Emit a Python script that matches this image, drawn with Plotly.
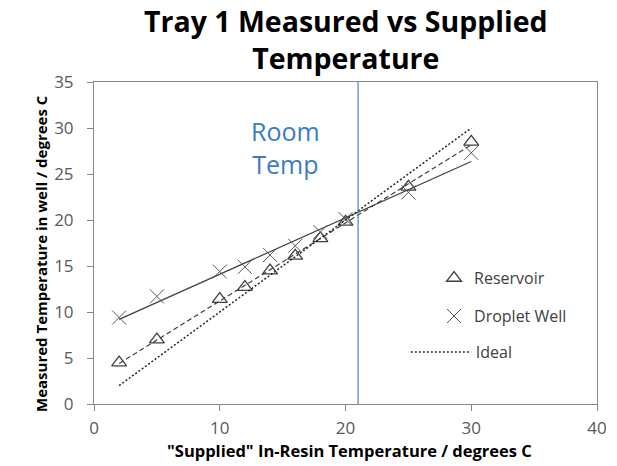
import numpy as np
import plotly.graph_objects as go

# ---- data ----
supplied = [2, 5, 10, 12, 14, 16, 18, 20, 25, 30]
reservoir = [4.5, 7.0, 11.4, 12.7, 14.5, 16.1, 18.0, 19.8, 23.6, 28.5]
droplet = [9.4, 11.7, 14.4, 14.9, 16.2, 17.2, 18.7, 20.1, 23.0, 27.3]
ideal_x = [2, 30]
ideal_y = [2, 30]
room_temp = 21
x_ticks = [0, 10, 20, 30, 40]
y_ticks = [0, 5, 10, 15, 20, 25, 30, 35]

FONT = "Open Sans"
GRAY = "#868686"

# linear trendlines (fit of the series)
xs = np.array([min(supplied), max(supplied)], dtype=float)
pr = np.polyfit(supplied, reservoir, 1)
pd_ = np.polyfit(supplied, droplet, 1)

fig = go.Figure()

fig.add_trace(go.Scatter(x=xs, y=np.polyval(pd_, xs), mode="lines",
                         line=dict(color="#404040", width=1.2), showlegend=False,
                         hoverinfo="skip"))
fig.add_trace(go.Scatter(x=xs, y=np.polyval(pr, xs), mode="lines",
                         line=dict(color="#404040", width=1.2, dash="5px,3px"),
                         showlegend=False, hoverinfo="skip"))

fig.add_trace(go.Scatter(x=supplied, y=reservoir, mode="markers", name="Reservoir",
                         marker=dict(symbol="triangle-up-open", size=13,
                                     color="#404040", line=dict(width=1.3, color="#404040")),
                         legend="legend"))
fig.add_trace(go.Scatter(x=supplied, y=droplet, mode="markers", name="Droplet Well",
                         marker=dict(symbol="x-thin-open", size=14,
                                     color="#595959", line=dict(width=1, color="#595959")),
                         legend="legend2"))
fig.add_trace(go.Scatter(x=ideal_x, y=ideal_y, mode="lines", name="Ideal",
                         line=dict(color="#262626", width=1.5, dash="2px,2px"),
                         legend="legend3"))

fig.add_shape(type="line", x0=room_temp, x1=room_temp, y0=0, y1=1,
              xref="x", yref="paper", line=dict(color="#4F81BD", width=1.2))

fig.add_annotation(text="Room<br>Temp", x=15.25, y=27.9, xref="x", yref="y",
                   showarrow=False, font=dict(family=FONT, size=25, color="#3A7DC0"),
                   align="center")

fig.add_annotation(text="<b>Tray 1 Measured vs Supplied<br>Temperature</b>",
                   x=0.5, xref="paper", y=1.256, yref="paper", yanchor="top",
                   showarrow=False, align="center",
                   font=dict(family=FONT, size=28.5, color="#000000"))

# axis titles
fig.add_annotation(text="<b>\"Supplied\" In-Resin Temperature / degrees C</b>",
                   x=0.507, xref="paper", y=-0.1457, yref="paper",
                   xanchor="center", yanchor="middle", showarrow=False,
                   font=dict(family=FONT, size=16.5, color="#000000"))
fig.add_annotation(text="<b>Measured Temperature in well / degrees C</b>",
                   x=-0.104, xref="paper", y=0.468, yref="paper", textangle=-90,
                   xanchor="center", yanchor="middle", showarrow=False,
                   font=dict(family=FONT, size=15, color="#000000"))

legend_common = dict(xanchor="left", yanchor="middle", bgcolor="rgba(0,0,0,0)",
                     font=dict(family=FONT, size=16, color="#404040"))

fig.update_layout(
    width=617, height=466,
    margin=dict(l=93.5, r=19.5, t=81.5, b=62),
    paper_bgcolor="white", plot_bgcolor="white",
    font=dict(family=FONT, size=14, color="#595959"),
    legend=dict(x=0.676, y=0.391, **legend_common),
    legend2=dict(x=0.676, y=0.273, **legend_common),
    legend3=dict(x=0.62, y=0.161, itemwidth=60, **legend_common),
    xaxis=dict(range=[0, 40], tickvals=x_ticks, showgrid=False, zeroline=False,
               showline=True, linecolor=GRAY, linewidth=1, mirror=True,
               ticks="outside", ticklen=6, tickcolor=GRAY, automargin=False,
               ticklabelstandoff=3,
               tickfont=dict(family=FONT, size=17, color="#595959")),
    yaxis=dict(range=[0, 35], tickvals=y_ticks, showgrid=False, zeroline=False,
               showline=True, linecolor=GRAY, linewidth=1, mirror=True,
               ticks="outside", ticklen=6, tickcolor=GRAY, automargin=False,
               ticklabelstandoff=10,
               tickfont=dict(family=FONT, size=17, color="#595959")),
)

fig.write_html("out.html", config={"displayModeBar": False},
               post_script="document.body.style.margin='0';")
